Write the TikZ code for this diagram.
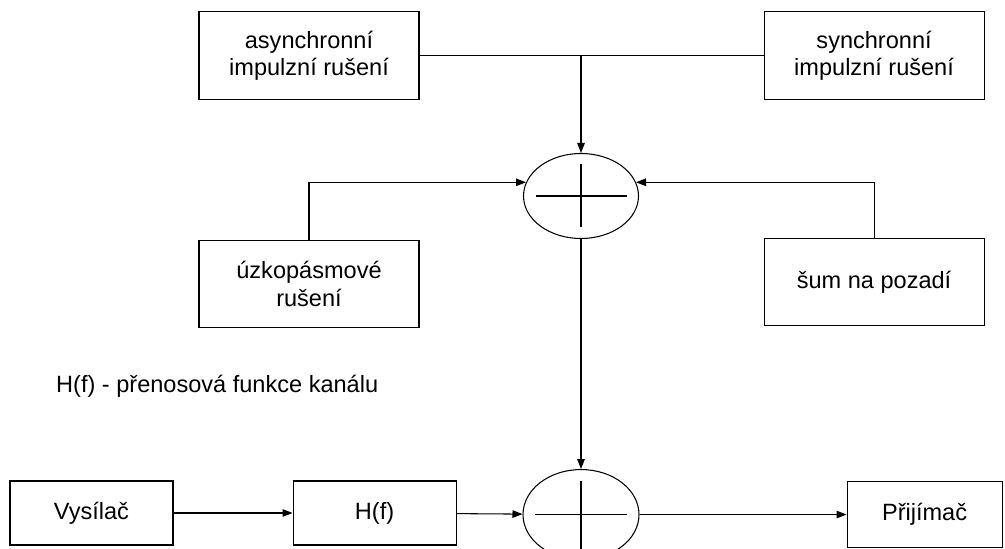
\documentclass[tikz,border=0pt]{standalone}
\usepackage{fontspec}
\setmainfont{Liberation Sans}
\usetikzlibrary{shapes.geometric, arrows.meta, positioning, calc}

\begin{document}
\begin{tikzpicture}[
    node distance=1.0cm and 1.2cm,
    font=\fontsize{13.4}{15.6}\selectfont,
    % Zdroje rušení
    block/.style={
        draw,
        line width=0.6pt,
        minimum height=1.75cm,
        minimum width=4.4cm,
        align=center
    },
    % Bloky přenosové cesty
    unit/.style={
        draw,
        line width=0.6pt,
        minimum height=1.28cm,
        minimum width=3.26cm,
        align=center
    },
    % Šipky
    arrow/.style={
        -{Triangle[length=0.2cm, width=0.15cm]},
        line width=0.6pt
    },
    wire/.style={line width=0.6pt},
    % Sčítací člen
    operator/.style={
        ellipse,
        draw,
        line width=0.6pt,
        inner sep=0pt,
        minimum width=2.3cm,
        minimum height=1.7cm,
        path picture={
            \draw[line width=0.6pt] ([xshift=0.24cm]path picture bounding box.west) -- ([xshift=-0.24cm]path picture bounding box.east);
            \draw[line width=0.6pt] ([yshift=-0.22cm]path picture bounding box.north) -- ([yshift=0.22cm]path picture bounding box.south);
        }
    },
    caption/.style={anchor=west}
]
    \useasboundingbox (0,0) rectangle (20.1,-10.98);

    % --- 1. Impulzní rušení (nahoře) ---
    \node[block] (async) at (6.18,-1.11) {asynchronní\\impulzní rušení};
    \node[block, right=6.88cm of async] (sync) {synchronní\\impulzní rušení};

    % Sčítání rušení
    \node[operator] (sum1) at (11.62,-3.92) {};

    \coordinate (split) at (sum1 |- async);
    \draw[wire] (async) -- (sync);
    \draw[arrow] (split) -- (sum1);

    % --- 2. Úzkopásmové rušení a šum ---
    \node[block, below=2.8cm of async] (narrow) {úzkopásmové\\rušení};
    \node[block, below=2.76cm of sync] (noise) {šum na pozadí};

    \draw[arrow] (narrow.north) |- (sum1.166);
    \draw[arrow] (noise.north) |- (sum1.14);

    % --- 3. Přenosová cesta ---
    \node[operator, below=4.6cm of sum1, minimum height=1.8cm, minimum width=2.32cm] (sum2) {};
    \draw[arrow] (sum1) -- (sum2);

    \node[caption] (note) at (1.0,-7.72) {H(f) - přenosová funkce kanálu};

    \node[unit] (tx) at (1.83,-10.26) {Vysílač};
    \node[unit, right=2.38cm of tx] (hf) {H(f)};
    \node[unit, right=4.14cm of sum2, minimum width=3.1cm, minimum height=1.32cm] (rx) {Přijímač};

    \draw[arrow] (tx) -- (hf);
    \draw[arrow] (hf) -- (sum2);
    \draw[arrow] (sum2) -- (rx);

\end{tikzpicture}
\end{document}
